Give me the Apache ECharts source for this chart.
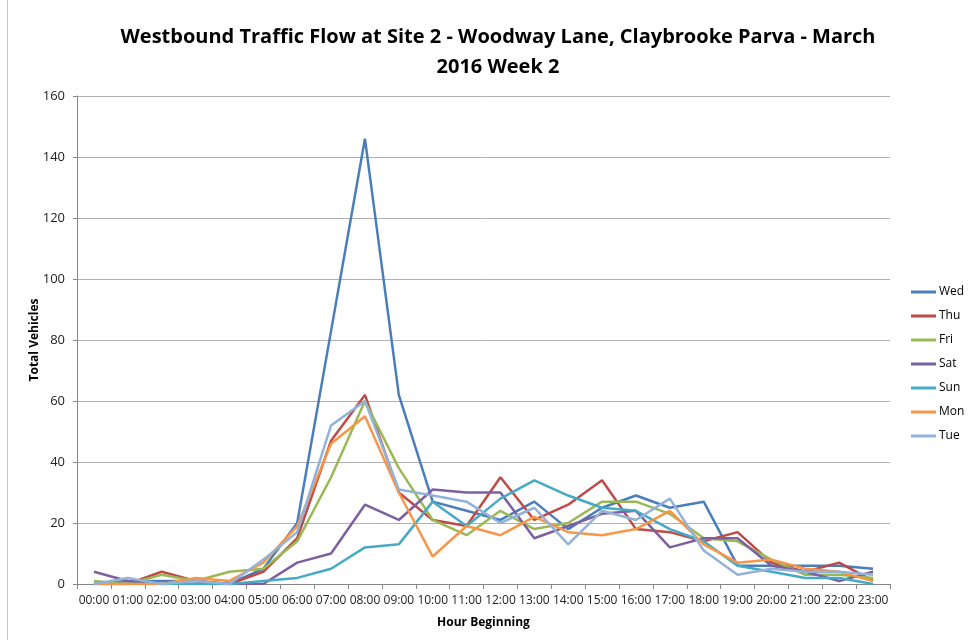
<!DOCTYPE html>
<html>
<head>
<meta charset="utf-8">
<script src="https://cdn.jsdelivr.net/npm/echarts@6/dist/echarts.min.js"></script>
<style>
  html, body { margin: 0; padding: 0; background: #fff; }
  #chart { width: 968px; height: 640px; }
</style>
</head>
<body>
<div id="chart"></div>
<script>
// Hour-beginning categories
const hours = ['00:00','01:00','02:00','03:00','04:00','05:00','06:00','07:00','08:00','09:00','10:00','11:00',
               '12:00','13:00','14:00','15:00','16:00','17:00','18:00','19:00','20:00','21:00','22:00','23:00'];

// Vehicle counts per hour, one array per day
const wed = [0, 1, 1, 1, 0, 5, 20, 83, 146, 62, 27, 24, 21, 27, 18, 25, 29, 25, 27, 6, 6, 6, 6, 5];
const thu = [0, 0, 4, 1, 0, 4, 15, 47, 62, 30, 21, 19, 35, 21, 26, 34, 18, 17, 14, 17, 7, 4, 7, 1];
const fri = [1, 0, 3, 1, 4, 5, 14, 35, 60, 38, 21, 16, 24, 18, 20, 27, 27, 23, 15, 14, 8, 3, 3, 2];
const sat = [4, 1, 0, 0, 0, 0, 7, 10, 26, 21, 31, 30, 30, 15, 19, 23, 24, 12, 15, 15, 6, 4, 1, 4];
const sun = [0, 0, 0, 0, 0, 1, 2, 5, 12, 13, 27, 19, 28, 34, 29, 25, 24, 18, 14, 6, 4, 2, 2, 0];
const mon = [0, 0, 0, 2, 1, 7, 19, 46, 55, 30, 9, 19, 16, 22, 17, 16, 18, 24, 13, 7, 8, 5, 4, 1];
const tue = [0, 2, 0, 1, 0, 8, 17, 52, 60, 31, 29, 27, 20, 25, 13, 24, 21, 28, 11, 3, 5, 4, 4, 3];

const dayNames = ['Wed', 'Thu', 'Fri', 'Sat', 'Sun', 'Mon', 'Tue'];
const dayData = [wed, thu, fri, sat, sun, mon, tue];
const dayColors = ['#4A7EBB', '#BE4B48', '#98B954', '#7D60A0', '#46AAC5', '#F79646', '#93B2DA'];

// Value axis ticks
const yMin = 0, yMax = 160, yStep = 20;

const font = "'Open Sans', 'Noto Sans', sans-serif";

const chart = echarts.init(document.getElementById('chart'), null, { renderer: 'canvas' });

chart.setOption({
  backgroundColor: '#ffffff',
  animation: false,
  title: {
    text: 'Westbound Traffic Flow at Site 2 - Woodway Lane, Claybrooke Parva - March\n2016 Week 2',
    left: 493,
    top: 17,
    textAlign: 'center',
    textStyle: { fontFamily: font, fontSize: 20, fontWeight: 'bold', color: '#000', lineHeight: 30 }
  },
  legend: {
    orient: 'vertical',
    left: 911,
    top: 286,
    padding: 0,
    itemWidth: 25,
    itemHeight: 3,
    itemGap: 12,
    icon: 'rect',
    textStyle: { fontFamily: font, fontSize: 12, color: '#000', padding: [0, 0, 0, -2] },
    data: dayNames
  },
  grid: { left: 77, right: 78, top: 96, bottom: 56, containLabel: false },
  xAxis: {
    type: 'category',
    data: hours,
    boundaryGap: true,
    name: 'Hour Beginning',
    nameLocation: 'middle',
    nameGap: 33,
    nameMoveOverlap: false,
    nameTextStyle: { fontFamily: font, fontSize: 12, fontWeight: 'bold', color: '#000' },
    axisLine: { lineStyle: { color: '#868686', width: 1 } },
    axisTick: { show: true, length: 5, alignWithLabel: false, lineStyle: { color: '#868686' } },
    axisLabel: { fontFamily: font, fontSize: 12, color: '#222', margin: 11, interval: 0 }
  },
  yAxis: {
    type: 'value',
    min: yMin,
    max: yMax,
    interval: yStep,
    name: 'Total Vehicles',
    nameLocation: 'middle',
    nameGap: 36,
    nameMoveOverlap: false,
    nameRotate: 90,
    nameTextStyle: { fontFamily: font, fontSize: 12, fontWeight: 'bold', color: '#000' },
    axisLine: { show: true, lineStyle: { color: '#868686', width: 1 } },
    axisTick: { show: true, length: 4, lineStyle: { color: '#868686' } },
    axisLabel: { fontFamily: font, fontSize: 13, color: '#222', margin: 12 },
    splitLine: { show: true, lineStyle: { color: '#b0b0b0', width: 1 } }
  },
  series: dayNames.map((name, i) => ({
    name: name,
    type: 'line',
    data: dayData[i],
    symbol: 'none',
    smooth: false,
    color: dayColors[i],
    lineStyle: { width: 2.5, color: dayColors[i] },
    emphasis: { disabled: true }
  })),
  graphic: [
    {
      type: 'line',
      shape: { x1: 7.5, y1: 0, x2: 7.5, y2: 640 },
      style: { stroke: '#c8c8c8', lineWidth: 1 },
      silent: true
    }
  ]
});
</script>
</body>
</html>
